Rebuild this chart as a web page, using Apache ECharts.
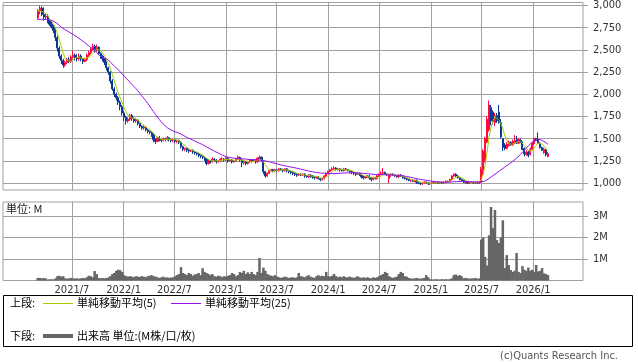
<!DOCTYPE html>
<html><head><meta charset="utf-8">
<script src="https://cdn.jsdelivr.net/npm/echarts@6/dist/echarts.min.js"></script>
<style>html,body{margin:0;padding:0;background:#fff}#c{width:638px;height:362px}</style>
</head><body><div id="c"></div>
<script>
// Weekly bars, first week starting 2021-03-01
const firstWeek = '2021-03-01';
const opens = [
2860,2940,2970,2900,2870,2880,2820,2790,2760,2720,
2640,2520,2430,2380,2330,2360,2390,2370,2420,2440,
2410,2400,2430,2400,2370,2390,2440,2470,2510,2540,
2500,2530,2460,2430,2400,2360,2300,2250,2150,2060,
2000,1960,1910,1860,1790,1740,1700,1720,1760,1730,
1700,1710,1670,1640,1620,1630,1600,1580,1570,1550,
1490,1470,1510,1490,1480,1500,1490,1510,1490,1480,
1490,1470,1480,1460,1410,1380,1390,1370,1360,1370,
1350,1340,1330,1310,1300,1290,1270,1220,1250,1240,
1270,1260,1240,1250,1270,1270,1260,1280,1250,1260,
1240,1250,1270,1290,1260,1230,1240,1220,1240,1260,
1250,1260,1240,1280,1290,1250,1130,1080,1110,1140,
1150,1140,1150,1140,1160,1150,1140,1160,1140,1130,
1120,1110,1100,1090,1100,1090,1100,1080,1070,1090,
1080,1070,1060,1070,1050,1040,1050,1080,1110,1130,
1150,1160,1170,1150,1160,1150,1140,1160,1150,1140,
1130,1120,1110,1100,1110,1090,1070,1060,1070,1080,
1060,1040,1060,1050,1080,1100,1110,1120,1100,1050,
1090,1100,1090,1080,1070,1090,1080,1060,1050,1040,
1030,1030,1020,1030,1010,1000,990,1000,1010,1000,
990,1000,1010,1000,1010,1000,1010,1000,1010,1020,
1020,1040,1080,1100,1080,1060,1040,1030,1010,1010,
1000,1010,1010,1000,1010,1000,1010,1100,1250,1460,
1600,1850,1800,1680,1760,1800,1680,1500,1430,1390,
1420,1460,1430,1450,1490,1450,1480,1460,1390,1320,
1350,1320,1380,1440,1500,1490,1450,1400,1340,1380,
1300];
const closes = [
2940,2970,2900,2870,2880,2820,2790,2760,2720,2640,
2520,2430,2380,2330,2360,2390,2370,2420,2440,2410,
2400,2430,2400,2370,2390,2440,2470,2510,2540,2500,
2530,2460,2430,2400,2360,2300,2250,2150,2060,2000,
1960,1910,1860,1790,1740,1700,1720,1760,1730,1700,
1710,1670,1640,1620,1630,1600,1580,1570,1550,1490,
1470,1510,1490,1480,1500,1490,1510,1490,1480,1490,
1470,1480,1460,1410,1380,1390,1370,1360,1370,1350,
1340,1330,1310,1300,1290,1270,1220,1250,1240,1270,
1260,1240,1250,1270,1270,1260,1280,1250,1260,1240,
1250,1270,1290,1260,1230,1240,1220,1240,1260,1250,
1260,1240,1280,1290,1260,1130,1080,1110,1140,1150,
1140,1150,1140,1160,1150,1140,1160,1140,1130,1120,
1110,1100,1090,1100,1090,1100,1080,1070,1090,1080,
1070,1060,1070,1050,1040,1050,1080,1110,1130,1150,
1160,1170,1150,1160,1150,1140,1160,1150,1140,1130,
1120,1110,1100,1110,1090,1070,1060,1070,1080,1060,
1040,1060,1050,1080,1100,1110,1120,1100,1090,1090,
1100,1090,1080,1070,1090,1080,1060,1050,1040,1030,
1030,1020,1030,1010,1000,990,1000,1010,1000,990,
1000,1010,1000,1010,1000,1010,1000,1010,1020,1020,
1040,1080,1100,1080,1060,1040,1030,1010,1010,1000,
1010,1010,1000,1010,1000,1010,1150,1360,1500,1720,
1880,1700,1690,1760,1700,1680,1520,1400,1390,1440,
1460,1430,1470,1480,1450,1490,1460,1380,1330,1350,
1310,1380,1450,1500,1480,1450,1400,1370,1380,1320,
1330];
const highs = [
2960,3000,2990,2980,2910,2900,2840,2820,2780,2740,
2660,2540,2450,2400,2380,2410,2420,2440,2490,2460,
2450,2460,2450,2410,2410,2460,2490,2530,2570,2560,
2560,2540,2470,2440,2410,2370,2310,2260,2170,2080,
2020,1980,1930,1880,1810,1760,1740,1780,1780,1740,
1730,1720,1680,1650,1650,1640,1610,1590,1580,1560,
1500,1520,1530,1500,1510,1510,1530,1520,1500,1500,
1500,1490,1490,1470,1420,1400,1400,1380,1380,1380,
1360,1350,1340,1320,1310,1300,1280,1260,1260,1290,
1280,1270,1260,1280,1290,1280,1290,1290,1270,1270,
1260,1280,1310,1300,1270,1250,1250,1250,1270,1270,
1270,1270,1290,1310,1300,1260,1140,1120,1150,1160,
1160,1160,1160,1170,1170,1160,1170,1170,1150,1140,
1130,1120,1110,1110,1110,1110,1110,1090,1100,1100,
1090,1080,1080,1080,1060,1060,1090,1120,1140,1160,
1180,1190,1180,1170,1170,1160,1170,1170,1160,1150,
1140,1130,1120,1120,1120,1100,1080,1080,1090,1090,
1070,1070,1070,1090,1110,1130,1170,1130,1110,1100,
1110,1110,1100,1090,1100,1100,1090,1070,1060,1050,
1040,1040,1040,1040,1020,1010,1010,1020,1020,1010,
1010,1020,1020,1020,1020,1020,1020,1020,1030,1030,
1050,1090,1110,1110,1090,1070,1050,1040,1020,1020,
1020,1020,1020,1020,1020,1020,1180,1380,1520,1750,
1930,1880,1820,1790,1790,1880,1720,1510,1450,1460,
1480,1470,1490,1540,1530,1510,1500,1470,1400,1370,
1360,1400,1460,1510,1510,1570,1460,1410,1400,1390,
1350];
const lows = [
2840,2900,2880,2830,2840,2800,2770,2740,2690,2600,
2480,2400,2340,2300,2310,2340,2350,2350,2400,2380,
2370,2380,2370,2340,2360,2370,2420,2450,2490,2470,
2480,2440,2400,2370,2330,2270,2220,2120,2040,1970,
1930,1880,1820,1760,1700,1660,1680,1700,1700,1680,
1680,1650,1620,1600,1600,1580,1560,1550,1520,1460,
1440,1460,1470,1460,1470,1470,1480,1470,1460,1460,
1450,1450,1440,1390,1360,1360,1350,1340,1350,1330,
1320,1310,1290,1280,1270,1250,1200,1210,1220,1230,
1240,1220,1230,1240,1250,1240,1250,1230,1240,1220,
1230,1240,1260,1240,1180,1210,1200,1210,1230,1230,
1240,1220,1230,1270,1240,1100,1060,1070,1100,1130,
1120,1130,1120,1130,1140,1120,1130,1120,1110,1100,
1090,1080,1070,1080,1080,1080,1060,1060,1060,1060,
1050,1040,1050,1040,1020,1030,1040,1070,1100,1120,
1140,1150,1140,1140,1130,1130,1130,1140,1130,1110,
1100,1090,1080,1090,1080,1050,1040,1050,1060,1040,
1020,1030,1040,1040,1070,1090,1100,1090,1080,1000,
1070,1080,1070,1060,1060,1070,1050,1040,1030,1020,
1010,1010,1010,990,990,980,980,990,990,980,
980,990,990,990,990,990,990,990,1000,1010,
1010,1030,1070,1070,1050,1030,1020,1000,990,990,
990,1000,990,990,990,990,1000,1080,1230,1450,
1580,1650,1660,1640,1680,1670,1500,1360,1370,1380,
1410,1420,1420,1440,1440,1440,1450,1370,1300,1310,
1290,1310,1370,1430,1470,1440,1390,1360,1330,1300,
1290];
// 25-week simple moving average as drawn (purple)
const ma25 = [
2844,2844,2844,2843,2842,2840,2836,2830,2824,2814,
2795,2775,2755,2740,2727,2714,2700,2688,2675,2660,
2645,2630,2614,2598,2581,2564,2546,2528,2510,2490,
2470,2450,2428,2418,2408,2398,2385,2362,2340,2318,
2300,2278,2254,2230,2206,2182,2160,2135,2112,2088,
2064,2040,2012,1984,1956,1928,1900,1868,1836,1804,
1774,1744,1715,1688,1663,1642,1624,1609,1597,1587,
1578,1570,1562,1552,1540,1527,1514,1504,1494,1484,
1474,1464,1453,1443,1432,1420,1408,1396,1384,1372,
1360,1349,1338,1326,1315,1305,1298,1292,1287,1284,
1281,1279,1277,1275,1274,1272,1270,1268,1266,1265,
1263,1262,1261,1259,1257,1254,1250,1245,1240,1234,
1228,1222,1216,1210,1204,1199,1194,1189,1185,1181,
1177,1172,1167,1162,1157,1152,1146,1141,1136,1131,
1127,1123,1120,1117,1114,1112,1110,1108,1107,1106,
1106,1107,1108,1110,1111,1112,1113,1114,1115,1116,
1116,1116,1115,1114,1113,1111,1109,1107,1105,1103,
1101,1099,1097,1096,1095,1095,1095,1094,1094,1093,
1092,1091,1090,1089,1087,1085,1082,1078,1074,1070,
1065,1060,1055,1050,1046,1042,1038,1034,1031,1028,
1025,1022,1019,1016,1013,1011,1010,1009,1009,1009,
1010,1012,1014,1016,1018,1019,1019,1018,1017,1016,
1015,1014,1013,1012,1011,1010,1012,1016,1024,1036,
1052,1068,1084,1100,1116,1132,1148,1164,1180,1196,
1212,1228,1245,1262,1280,1300,1322,1346,1370,1395,
1420,1442,1462,1478,1488,1492,1490,1482,1470,1455,
1438];
// Volume in millions of shares
const volumes = [
0.12,0.12,0.1,0.12,0.1,0.05,0.05,0.06,0.05,0.1,
0.2,0.22,0.18,0.2,0.1,0.08,0.1,0.12,0.1,0.09,
0.1,0.08,0.1,0.12,0.1,0.15,0.22,0.2,0.15,0.44,
0.3,0.12,0.1,0.12,0.1,0.12,0.14,0.2,0.3,0.35,
0.45,0.5,0.48,0.4,0.25,0.2,0.18,0.2,0.18,0.15,
0.2,0.18,0.16,0.2,0.18,0.15,0.2,0.22,0.25,0.2,
0.18,0.15,0.12,0.15,0.18,0.13,0.15,0.12,0.14,0.15,
0.2,0.25,0.3,0.62,0.35,0.3,0.25,0.35,0.3,0.22,
0.28,0.3,0.35,0.25,0.57,0.4,0.35,0.3,0.25,0.3,
0.2,0.18,0.22,0.2,0.15,0.2,0.18,0.22,0.25,0.35,
0.3,0.2,0.25,0.4,0.35,0.45,0.3,0.38,0.3,0.4,
0.3,0.25,0.4,1.05,0.35,0.6,0.45,0.3,0.25,0.22,
0.2,0.25,0.18,0.15,0.12,0.15,0.18,0.15,0.12,0.14,
0.15,0.12,0.15,0.35,0.2,0.18,0.15,0.2,0.25,0.18,
0.15,0.12,0.2,0.25,0.2,0.22,0.2,0.4,0.2,0.18,
0.22,0.3,0.2,0.15,0.18,0.15,0.2,0.15,0.15,0.18,
0.15,0.12,0.15,0.2,0.15,0.12,0.15,0.12,0.15,0.12,
0.1,0.15,0.12,0.15,0.2,0.25,0.3,0.4,0.35,0.2,
0.15,0.12,0.15,0.18,0.3,0.4,0.35,0.2,0.18,0.12,
0.1,0.08,0.1,0.12,0.1,0.08,0.1,0.12,0.25,0.15,
0.06,0.05,0.05,0.06,0.05,0.05,0.06,0.05,0.06,0.05,
0.06,0.1,0.25,0.28,0.22,0.25,0.2,0.1,0.12,0.1,
0.08,0.1,0.1,0.12,0.08,0.1,1.9,2.0,1.1,0.7,
2.1,3.42,2.44,3.28,1.88,1.74,2.0,2.8,0.58,1.18,
0.72,0.49,0.4,0.45,1.28,0.4,0.35,0.67,0.5,0.45,
0.6,0.45,0.5,0.4,0.72,0.42,0.45,0.58,0.33,0.3,
0.25];
const priceTicks = [1000,1250,1500,1750,2000,2250,2500,2750,3000];
const volumeTicks = [1,2,3];
const dateTicks = ['2021-07-01','2022-01-01','2022-07-01','2023-01-01','2023-07-01','2024-01-01','2024-07-01','2025-01-01','2025-07-01','2026-01-01'];
const axisStart = '2020-10-28', axisEnd = '2026-06-28';

function toTime(s){const p=s.split('-').map(Number);return new Date(p[0],p[1]-1,p[2]).getTime();}
const t0 = toTime(firstWeek);
const DAY = 86400000;
const times = closes.map((_, i) => t0 + i * 7 * DAY);
const ma5 = closes.map((_, i) => { const w = closes.slice(Math.max(0, i - 4), i + 1); return w.reduce((a, b) => a + b, 0) / w.length; });
const tickTimes = dateTicks.map(toTime);

const UP = '#ff0a3c', DOWN = '#0a3796', GRID = '#a0a0a0';
const FONT = '"DejaVu Sans Condensed","DejaVu Sans",sans-serif';
const JP = '"Noto Sans CJK JP",sans-serif';

const chart = echarts.init(document.getElementById('c'), null, {renderer: 'canvas'});
const xCommon = {
  type: 'value', min: toTime(axisStart), max: toTime(axisEnd),
  axisLine: {show: false},
  axisTick: {show: false, customValues: tickTimes},
  splitLine: {show: true, lineStyle: {color: GRID, width: 1}},
};
chart.setOption({
  animation: false,
  backgroundColor: '#fff',
  grid: [
    {left: 3, top: 1, width: 580, height: 189, show: true, borderColor: GRID, borderWidth: 1, backgroundColor: '#fff'},
    {left: 3, top: 202, width: 580, height: 78.5, show: true, borderColor: GRID, borderWidth: 1, backgroundColor: '#fff'}
  ],
  xAxis: [
    Object.assign({gridIndex: 0, axisLabel: {show: false, customValues: tickTimes}}, xCommon),
    Object.assign({gridIndex: 1, axisLabel: {show: true, customValues: tickTimes, margin: 4, fontSize: 11, color: '#333', fontFamily: FONT,
      formatter: v => { const d = new Date(v); return d.getFullYear() + '/' + (d.getMonth() + 1); }}}, xCommon)
  ],
  yAxis: [
    {gridIndex: 0, type: 'value', position: 'right', min: 922, max: 3034,
     axisLine: {show: false},
     axisTick: {show: true, customValues: priceTicks, length: 5, lineStyle: {color: GRID}},
     axisLabel: {customValues: priceTicks, margin: 10, fontSize: 11, color: '#333', fontFamily: FONT, formatter: v => v.toLocaleString('en-US')},
     splitLine: {show: true, lineStyle: {color: GRID, width: 1}}},
    {gridIndex: 1, type: 'value', position: 'right', min: 0, max: 3.65,
     axisLine: {show: false},
     axisTick: {show: true, customValues: volumeTicks, length: 5, lineStyle: {color: GRID}},
     axisLabel: {customValues: volumeTicks, margin: 10, fontSize: 11, color: '#333', fontFamily: FONT, formatter: v => v + 'M'},
     splitLine: {show: true, lineStyle: {color: GRID, width: 1}}}
  ],
  series: [
    {type: 'candlestick', xAxisIndex: 0, yAxisIndex: 0, barWidth: 1.6,
     data: times.map((t, i) => [t, opens[i], closes[i], lows[i], highs[i]]),
     itemStyle: {color: UP, color0: DOWN, borderColor: UP, borderColor0: DOWN, borderWidth: 1}},
    {type: 'line', xAxisIndex: 0, yAxisIndex: 0, showSymbol: false, symbol: 'none', z: 5,
     data: times.map((t, i) => [t, ma5[i]]), lineStyle: {color: '#a8cc00', width: 1}},
    {type: 'line', xAxisIndex: 0, yAxisIndex: 0, showSymbol: false, symbol: 'none', z: 5,
     data: times.map((t, i) => [t, ma25[i]]), lineStyle: {color: '#9a10f0', width: 1}},
    {type: 'bar', xAxisIndex: 1, yAxisIndex: 1, barWidth: 2.5, barGap: '0%',
     data: times.map((t, i) => [t, volumes[i]]), itemStyle: {color: '#666'}}
  ],
  graphic: [
    {type: 'text', left: 6, top: 203, style: {text: '単位: M', font: '11px ' + JP, fill: '#222'}},
    {type: 'rect', shape: {x: 3.5, y: 295.5, width: 629, height: 51}, style: {fill: 'none', stroke: '#000', lineWidth: 1}},
    {type: 'text', x: 10, y: 303, style: {text: '上段:', font: '11px ' + JP, fill: '#000', verticalAlign: 'middle'}},
    {type: 'line', shape: {x1: 43, y1: 303.5, x2: 73, y2: 303.5}, style: {stroke: '#a8cc00', lineWidth: 1}},
    {type: 'text', x: 77, y: 303, style: {text: '単純移動平均(5)', font: '11px ' + JP, fill: '#000', verticalAlign: 'middle'}},
    {type: 'line', shape: {x1: 171, y1: 303.5, x2: 201, y2: 303.5}, style: {stroke: '#9a10f0', lineWidth: 1}},
    {type: 'text', x: 205, y: 303, style: {text: '単純移動平均(25)', font: '11px ' + JP, fill: '#000', verticalAlign: 'middle'}},
    {type: 'text', x: 10, y: 336, style: {text: '下段:', font: '11px ' + JP, fill: '#000', verticalAlign: 'middle'}},
    {type: 'line', shape: {x1: 43, y1: 336, x2: 73, y2: 336}, style: {stroke: '#666', lineWidth: 4}},
    {type: 'text', x: 77, y: 336, style: {text: '出来高 単位:(M株/口/枚)', font: '11px ' + JP, fill: '#000', verticalAlign: 'middle'}},
    {type: 'text', x: 618, y: 356, style: {text: '(c)Quants Research Inc.', font: '11px ' + FONT, fill: '#555', align: 'right', verticalAlign: 'middle'}}
  ]
});
</script>
</body></html>
